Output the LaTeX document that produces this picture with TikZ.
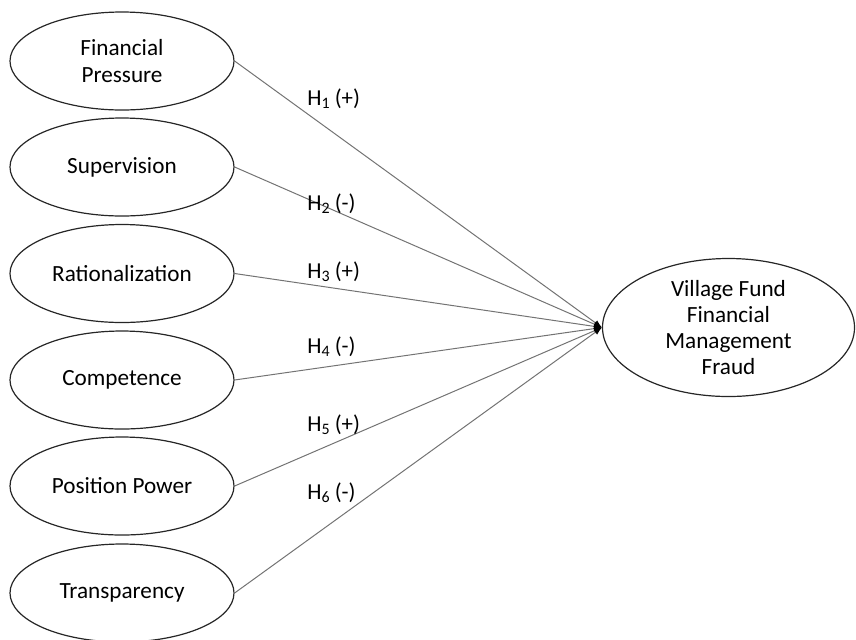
\documentclass[tikz,border=0pt]{standalone}
\usepackage{fontspec}
\setmainfont{Carlito}
\usetikzlibrary{shapes.geometric,arrows.meta}
\tikzset{
  varbox/.style={ellipse, draw=black!85, line width=0.6pt, inner sep=0pt,
    minimum width=112pt, minimum height=49pt, align=center, font=\fontsize{11.6}{13.6}\selectfont},
  depbox/.style={ellipse, draw=black!85, line width=0.6pt, inner sep=0pt,
    minimum width=126pt, minimum height=69pt, align=center, font=\fontsize{11.6}{13}\selectfont},
  link/.style={draw=black!55, line width=0.5pt, -{Latex[length=4pt,width=3pt,black]}},
  hyp/.style={anchor=west, inner sep=0pt, font=\fontsize{11.4}{13}\selectfont}
}
\newcommand{\hlab}[2]{H\textsubscript{#1}\hspace{0.18em}(#2)}
\begin{document}
\begin{tikzpicture}[x=0.5pt,y=-0.5pt]
\useasboundingbox (0,0) rectangle (856,639);
\node[varbox] (fp) at (122,61) {Financial\\Pressure};
\node[varbox] (sv) at (122,167) {Supervision};
\node[varbox] (ra) at (122,273.5) {Rationalization};
\node[varbox] (co) at (122,380) {Competence};
\node[varbox] (pp) at (122,486) {Position Power};
\node[varbox] (tr) at (122,593) {Transparency};
\node[depbox] (vf) at (728.5,327.5) {Village Fund\\Financial\\Management\\Fraud};
\foreach \s in {fp,sv,ra,co,pp,tr}
  \draw[link] (\s.east) -- (vf.west);
\node[hyp] (h1) at (307,99) {\hlab{1}{+}};
\node[hyp] (h2) at (307,204) {\hlab{2}{-}};
\node[hyp] (h3) at (307,272) {\hlab{3}{+}};
\node[hyp] (h4) at (307,347) {\hlab{4}{-}};
\node[hyp] (h5) at (307,425) {\hlab{5}{+}};
\node[hyp] (h6) at (307,493) {\hlab{6}{-}};
\end{tikzpicture}
\end{document}
